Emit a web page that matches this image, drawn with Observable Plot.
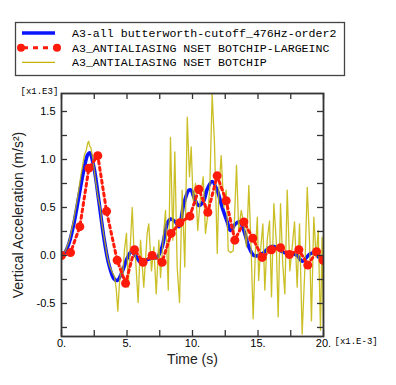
<!DOCTYPE html>
<html><head><meta charset="utf-8">
<script src="https://cdn.jsdelivr.net/npm/d3@7"></script>
<script src="https://cdn.jsdelivr.net/npm/@observablehq/plot@0.6"></script>
<style>
body{margin:0;background:#fff;}
#wrap{position:relative;width:396px;height:385px;overflow:hidden;}
#wrap svg{position:absolute;left:0;top:0;}
</style></head><body><div id="wrap"></div>
<script>
const seriesNames = ["A3-all butterworth-cutoff_476Hz-order2", "A3_ANTIALIASING NSET BOTCHIP-LARGEINC", "A3_ANTIALIASING NSET BOTCHIP"];
const seriesColors = ["#0a14ff", "#ff1a0a", "#c2b400"];
const xTickLabels = [0, 5, 10, 15, 20];
const xMinorTicks = [0, 2.5, 5, 7.5, 10, 12.5, 15, 17.5, 20];
const yTickLabels = [-0.5, 0, 0.5, 1, 1.5];
const yMinorTicks = [-0.75, -0.5, -0.25, 0, 0.25, 0.5, 0.75, 1, 1.25, 1.5];
const xScaleNote = "[x1.E-3]";
const yScaleNote = "[x1.E3]";
const xTitle = "Time (s)";
const yTitle = "Vertical Acceleration (m/s²)";

// Butterworth filtered (time in ms, accel in 1e3 m/s²)
const butterTime = [0,0.3,0.6,0.94,1.32,1.7,2.0,2.15,2.47,2.85,3.23,3.61,3.99,4.25,4.63,5.01,5.34,5.65,6.03,6.41,6.92,7.3,7.68,8.07,8.32,8.7,8.96,9.34,9.72,9.9,10.1,10.48,10.86,11.12,11.5,11.88,12.27,12.65,12.9,13.28,13.61,13.92,14.3,14.68,15.06,15.44,15.95,16.34,16.72,17.23,17.61,17.99,18.37,18.63,19.0,19.39,19.65,20.0];
const butterAccel = [0,0.04,0.14,0.33,0.61,0.89,1.05,1.07,0.92,0.57,0.19,-0.09,-0.24,-0.26,-0.17,-0.03,0.04,0.0,-0.07,-0.05,-0.03,-0.02,0.09,0.33,0.38,0.35,0.30,0.54,0.68,0.68,0.61,0.52,0.57,0.69,0.77,0.68,0.50,0.35,0.26,0.33,0.35,0.26,0.09,0.0,0.0,0.03,0.09,0.09,0.05,0.02,0.02,0.0,-0.06,-0.03,0.02,0.02,-0.02,-0.03];

// Large-increment output
const largeTime = [0,0.69,1.4,2.09,2.77,3.44,4.25,4.89,5.57,6.23,6.92,7.68,8.37,9.03,9.8,10.48,11.17,11.88,12.57,13.23,13.92,14.6,15.32,16.03,16.72,17.4,18.12,18.8,19.47,19.97];
const largeAccel = [0,0.03,0.30,0.91,1.04,0.46,-0.05,-0.29,0.06,-0.07,0.0,-0.07,0.23,0.34,0.41,0.69,0.45,0.83,0.57,0.16,0.35,0.18,-0.02,0.06,0.08,0.01,0.06,-0.10,0.04,-0.05];

// Raw (unfiltered) output
const rawTime = [0,0.3,0.6,0.9,1.2,1.5,1.75,1.9,2.0,2.08,2.15,2.25,2.4,2.6,2.8,2.95,3.1,3.3,3.5,3.7,3.9,4.05,4.18,4.3,4.42,4.55,4.68,4.8,4.96,5.09,5.25,5.4,5.52,5.65,5.85,6.03,6.28,6.54,6.66,6.87,7.05,7.23,7.43,7.56,7.73,7.94,8.15,8.32,8.5,8.65,8.83,9.01,9.21,9.41,9.6,9.77,9.9,10.05,10.23,10.4,10.61,10.82,10.99,11.17,11.32,11.5,11.68,11.89,12.01,12.19,12.39,12.57,12.73,12.9,13.11,13.36,13.53,13.72,13.92,14.12,14.3,14.48,14.63,14.8,14.95,15.05,15.19,15.37,15.52,15.7,15.88,16.03,16.21,16.39,16.54,16.72,16.89,17.05,17.23,17.43,17.61,17.79,17.99,18.17,18.37,18.57,18.76,18.93,19.08,19.26,19.44,19.6,19.77,19.89,20.0];
const rawAccel = [0,0.05,0.16,0.35,0.58,0.85,1.05,1.10,1.17,1.19,1.14,1.12,1.0,0.78,0.6,0.5,0.32,0.15,-0.02,-0.12,-0.18,-0.22,-0.35,-0.58,-0.30,-0.12,-0.2,0.05,0.23,-0.33,0.1,0.50,0.1,-0.02,-0.49,0.16,-0.33,0.23,0.33,-0.16,0.09,-0.40,0.16,-0.23,0.12,0.47,-0.36,1.23,0.16,1.08,-0.12,-0.49,0.68,-0.12,1.44,0.82,1.13,0.57,0.75,0.26,0.61,0.82,0.23,0.43,0.71,1.68,1.16,0.02,0.68,1.04,0.50,0.68,0.05,0.03,0.05,0.94,0.26,0.47,0.33,0.09,0.73,0.05,-0.66,0.05,0.40,-0.26,0.05,0.33,-0.36,0.16,0.36,-0.43,0.54,0.16,-0.64,0.54,-0.09,-0.40,0.68,-0.16,0.09,0.35,-0.33,0.33,-0.82,-0.16,0.71,0.16,-0.68,0.40,-0.02,0.26,-0.78,0.19,-0.75];

const butter = butterTime.map((t, i) => ({t, a: butterAccel[i]}));
const large = largeTime.map((t, i) => ({t, a: largeAccel[i]}));
const raw = rawTime.map((t, i) => ({t, a: rawAccel[i]}));

const sans = "'Liberation Sans', Arial, sans-serif";
const mono = "'Liberation Mono', 'DejaVu Sans Mono', monospace";
const fmt = d => (d < 0 ? "-" : "") + Math.abs(d).toFixed(1);

const chart = Plot.plot({
  width: 396, height: 385,
  marginLeft: 61, marginRight: 73, marginTop: 93, marginBottom: 49,
  style: {fontFamily: sans, fontSize: "11px", color: "#000", background: "transparent"},
  x: {domain: [0, 20], axis: null},
  y: {domain: [-0.844, 1.6875], axis: null},
  marks: [
    Plot.line(butter, {x: "t", y: "a", stroke: seriesColors[0], strokeWidth: 3.6, curve: "catmull-rom", clip: true}),
    Plot.line(raw, {x: "t", y: "a", stroke: seriesColors[2], strokeWidth: 1.3, strokeOpacity: 0.85, clip: true}),
    Plot.line(large, {x: "t", y: "a", stroke: seriesColors[1], strokeWidth: 3, strokeDasharray: "3,3.5", clip: true}),
    Plot.dot(large, {x: "t", y: "a", r: 4.5, fill: seriesColors[1], clip: true}),
    Plot.tickX(xMinorTicks, {x: d => d, insetTop: 237, stroke: "#333", strokeWidth: 1.3}),
    Plot.tickX(xMinorTicks, {x: d => d, insetBottom: 237, stroke: "#333", strokeWidth: 1.3}),
    Plot.tickY(yMinorTicks, {y: d => d, insetRight: 256, stroke: "#333", strokeWidth: 1.3}),
    Plot.tickY(yMinorTicks, {y: d => d, insetLeft: 256, stroke: "#333", strokeWidth: 1.3}),
    Plot.frame({stroke: "#333", strokeWidth: 1.8}),
    Plot.axisX(xTickLabels, {tickSize: 0, tickPadding: 3, tickFormat: d => d + ".", fontSize: 11, label: null}),
    Plot.axisY(yTickLabels, {tickSize: 0, tickPadding: 6, tickFormat: fmt, fontSize: 11, label: null}),
    Plot.text([yScaleNote], {frameAnchor: "top-left", dx: -41, dy: -6, textAnchor: "start", fontFamily: mono, fontSize: 9}),
    Plot.text([xScaleNote], {frameAnchor: "bottom-right", dx: 11, dy: 7.5, textAnchor: "start", fontFamily: mono, fontSize: 9}),
    Plot.text([xTitle], {frameAnchor: "bottom", dy: 27, fontSize: 14, fill: "#222"}),
    Plot.text([yTitle], {frameAnchor: "left", dx: -43, rotate: -90, textAnchor: "middle", fontSize: 14, fill: "#222"})
  ]
});
const wrap = document.getElementById("wrap");
wrap.appendChild(chart);

// Legend box
const leg = d3.select(wrap).append("svg").attr("width", 396).attr("height", 80);
leg.append("rect").attr("x", 15.5).attr("y", 22.5).attr("width", 329).attr("height", 53)
  .attr("fill", "#fff").attr("stroke", "#444").attr("stroke-width", 1.3);
const rowY = [33, 47.7, 62.3];
seriesNames.forEach((name, i) => {
  const g = leg.append("g");
  if (i === 0) {
    g.append("line").attr("x1", 22).attr("x2", 55).attr("y1", rowY[i]).attr("y2", rowY[i])
      .attr("stroke", seriesColors[0]).attr("stroke-width", 3.6);
  } else if (i === 1) {
    g.append("line").attr("x1", 21).attr("x2", 57).attr("y1", rowY[i]).attr("y2", rowY[i])
      .attr("stroke", seriesColors[1]).attr("stroke-width", 3).attr("stroke-dasharray", "5,5").attr("stroke-dashoffset", -2);
    g.append("circle").attr("cx", 21).attr("cy", rowY[i]).attr("r", 4).attr("fill", seriesColors[1]);
    g.append("circle").attr("cx", 57).attr("cy", rowY[i]).attr("r", 4).attr("fill", seriesColors[1]);
  } else {
    g.append("line").attr("x1", 22).attr("x2", 55).attr("y1", rowY[i]).attr("y2", rowY[i])
      .attr("stroke", seriesColors[2]).attr("stroke-width", 1.3);
  }
  g.append("text").attr("x", 72).attr("y", rowY[i]).attr("dy", "0.35em")
    .attr("font-family", mono).attr("font-size", 11.6).attr("fill", "#000").text(name);
});
</script></body></html>
